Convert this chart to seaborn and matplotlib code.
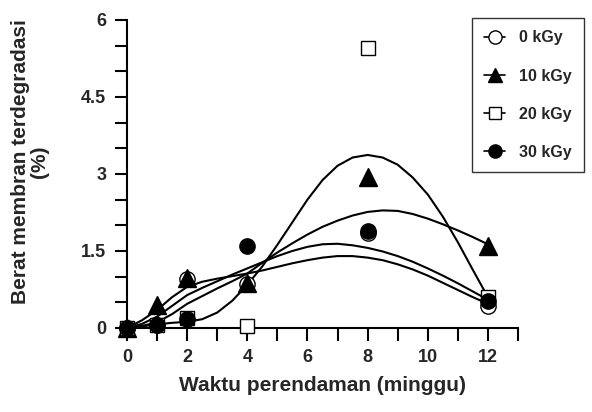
import pandas as pd
import seaborn as sns
import matplotlib.pyplot as plt
import numpy as np
from matplotlib.lines import Line2D
from matplotlib.ticker import MultipleLocator

weeks = [0, 1, 2, 4, 8, 12]
kgy_0 = [0.0, 0.05, 0.95, 0.85, 1.85, 0.42]
kgy_10 = [0.0, 0.45, 0.97, 0.87, 2.95, 1.60]
kgy_20 = [0.0, 0.05, 0.20, 0.03, 5.45, 0.60]
kgy_30 = [0.0, 0.05, 0.17, 1.60, 1.88, 0.52]

curve_x = [0, 0.5, 1, 1.5, 2, 2.5, 3, 3.5, 4, 4.5, 5, 5.5, 6,
           6.5, 7, 7.5, 8, 8.5, 9, 9.5, 10, 10.5, 11, 11.5, 12]
fit_0 = [0.0, 0.15, 0.35, 0.6, 0.8, 0.9, 0.96, 1.01, 1.06, 1.12, 1.19, 1.26, 1.32,
         1.37, 1.40, 1.40, 1.37, 1.32, 1.24, 1.14, 1.02, 0.88, 0.74, 0.6, 0.47]
fit_10 = [0.0, 0.04, 0.11, 0.27, 0.47, 0.62, 0.77, 0.91, 1.06, 1.27, 1.47, 1.65, 1.82,
          1.97, 2.09, 2.19, 2.26, 2.29, 2.28, 2.22, 2.13, 2.02, 1.9, 1.77, 1.63]
fit_20 = [0.0, 0.03, 0.07, 0.1, 0.12, 0.17, 0.3, 0.53, 0.84, 1.2, 1.62, 2.06, 2.5,
          2.88, 3.16, 3.32, 3.37, 3.32, 3.18, 2.93, 2.6, 2.17, 1.67, 1.13, 0.6]
fit_30 = [0.0, 0.08, 0.22, 0.43, 0.64, 0.78, 0.91, 1.04, 1.16, 1.28, 1.4, 1.5, 1.58,
          1.63, 1.64, 1.61, 1.56, 1.49, 1.4, 1.29, 1.16, 1.02, 0.87, 0.71, 0.55]

labels = ["0 kGy", "10 kGy", "20 kGy", "30 kGy"]
series = [kgy_0, kgy_10, kgy_20, kgy_30]
fits = [fit_0, fit_10, fit_20, fit_30]
markers = ["o", "^", "s", "o"]
faces = ["white", "black", "white", "black"]
msize = [11, 13, 10, 11]
leg_msize = [9.5, 10.5, 9, 9.5]

sns.set_style("ticks")
plt.rcParams['font.family'] = ['Liberation Sans', 'DejaVu Sans']
plt.rcParams['font.weight'] = 'bold'

fig = plt.figure(figsize=(5.92, 4.12), dpi=100)
ax = fig.add_axes([0.2145, 0.204, 0.6605, 0.7476])

# fitted curves
df_fit = pd.DataFrame({
    "x": curve_x * 4,
    "y": fit_0 + fit_10 + fit_20 + fit_30,
    "dose": sum([[lab] * len(curve_x) for lab in labels], []),
})
sns.lineplot(data=df_fit, x="x", y="y", units="dose", estimator=None, sort=False,
             color="black", lw=1.5, ax=ax, legend=False)

# points
for ys, m, fc, ms in zip(series, markers, faces, msize):
    ax.plot(weeks, ys, linestyle="none", marker=m, markersize=ms,
            markerfacecolor=fc, markeredgecolor="black", markeredgewidth=1, zorder=3,
            clip_on=False)

ax.set_xlim(0, 13)
ax.set_ylim(0, 6)
ax.xaxis.set_minor_locator(MultipleLocator(1))
ax.set_xticks([0, 2, 4, 6, 8, 10, 12])
ax.yaxis.set_minor_locator(MultipleLocator(0.5))
ax.set_yticks([0, 1.5, 3, 4.5, 6])
ax.set_yticklabels(["0", "1.5", "3", "4.5", "6"])
ax.tick_params(which="both", direction="out", width=1.5, length=9, labelsize=13,
               color="black", pad=6)
for lab in ax.get_xticklabels() + ax.get_yticklabels():
    lab.set_fontweight("bold")
sns.despine(ax=ax)
for s in ["left", "bottom"]:
    ax.spines[s].set_linewidth(1.5)
    ax.spines[s].set_color("black")

ax.set_xlabel("Waktu perendaman (minggu)", fontsize=15, fontweight="bold", labelpad=7)
ax.set_ylabel("Berat membran terdegradasi\n(%)", fontsize=15, fontweight="bold",
              linespacing=1.0)
ax.yaxis.set_label_coords(-0.2, 0.54)

handles = [Line2D([0], [0], color="black", lw=1.2, marker=m, markersize=ms,
                  markerfacecolor=fc, markeredgecolor="black")
           for m, fc, ms in zip(markers, faces, leg_msize)]
leg = ax.legend(handles, labels, loc="upper left", bbox_to_anchor=(0.883, 1.005),
                frameon=True, fancybox=False, handlelength=1.3, labelspacing=1.45,
                prop={"weight": "bold", "size": 11.5}, borderpad=0.75,
                handletextpad=0.9, borderaxespad=0)
leg.get_frame().set_edgecolor("black")
leg.get_frame().set_linewidth(1)

fig.savefig("out.png", dpi=100)
